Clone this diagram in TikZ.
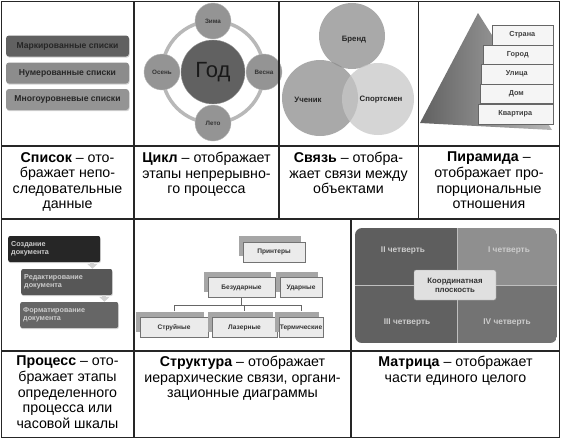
\documentclass[tikz,border=0pt]{standalone}
\usepackage{fontspec}
\setmainfont{Liberation Sans}
\usetikzlibrary{shadows,arrows.meta}
\begin{document}
\begin{tikzpicture}[%
    x=1pt, y=-1pt,
    grid/.style={
      line width=1.2pt,
      draw=black!85
    },
    caption/.style={
      anchor=north,
      align=center,
      inner sep=0pt,
      font=\fontsize{14.2}{15.6}\selectfont
    },
    listbar/.style={
      rectangle,
      rounded corners=3pt,
      minimum width=123pt,
      minimum height=21pt,
      font=\fontsize{8.6}{9}\selectfont\bfseries,
      text=black!85,
      drop shadow={shadow xshift=0.6pt, shadow yshift=-1.2pt, opacity=0.35}
    },
    season/.style={
      circle,
      minimum size=36pt,
      inner sep=0pt,
      fill=black!42,
      draw=black!28,
      font=\fontsize{6.3}{7}\selectfont\bfseries,
      text=black!80
    },
    vennlabel/.style={
      font=\fontsize{7.8}{8}\selectfont\bfseries,
      text=black!85
    },
    pyrbox/.style={
      rectangle,
      anchor=east,
      draw=black!60,
      fill=black!4,
      minimum height=19.5pt,
      font=\fontsize{7.3}{8}\selectfont\bfseries,
      text=black!75
    },
    procbox/.style={
      rectangle,
      anchor=west,
      rounded corners=2pt,
      minimum height=26pt,
      inner xsep=3pt,
      align=left,
      font=\fontsize{7.2}{8.2}\selectfont\bfseries,
      text=white!80!black,
      drop shadow={shadow xshift=0.6pt, shadow yshift=-1.2pt, opacity=0.3}
    },
    procarrow/.style={
      draw=black!18,
      line width=4pt,
      -{Triangle[width=10pt,length=5pt]}
    },
    strbox/.style={
      rectangle,
      draw=black!55,
      fill=black!8,
      minimum height=20pt,
      inner sep=1pt,
      font=\fontsize{6.6}{7}\selectfont\bfseries,
      text=black!80,
      drop shadow={shadow xshift=-4pt, shadow yshift=6pt, fill=black!35, opacity=1}
    },
    tree/.style={
      draw=black!60,
      line width=0.8pt
    },
    quarter/.style={
      font=\fontsize{8.3}{9}\selectfont\bfseries,
      text=white!80!black
    }
  ]
    \useasboundingbox (0,0) rectangle (561,440);

    \node[listbar, fill=black!62] (marked) at (67.5,46) {Маркированные списки};
    \node[listbar, fill=black!45] (numbered) at (67.5,73) {Нумерованные списки};
    \node[listbar, fill=black!42] (multi) at (67.5,99.5) {Многоуровневые списки};

    \node[circle, minimum size=102pt, outer sep=0pt, draw=black!28, line width=3.5pt] (ring) at (213,72) {};
    \node[circle, minimum size=64pt, fill=black!62, draw=black!40, font=\fontsize{22}{22}\selectfont, text=black!90] (year) at (ring.center) {Год};
    \node[season] (winter) at (ring.north) {Зима};
    \node[season] (spring) at (ring.east) {Весна};
    \node[season] (summer) at (ring.south) {Лето};
    \node[season] (autumn) at (ring.west) {Осень};

    \fill[black!45, fill opacity=0.75] (352,36) circle (33);
    \fill[black!45, fill opacity=0.75] (320,98) circle (38);
    \fill[black!22, fill opacity=0.75] (378,99) circle (36);
    \node[vennlabel] (brand) at (354,40) {Бренд};
    \node[vennlabel] (pupil) at (308,100) {Ученик};
    \node[vennlabel] (sportsman) at (381,100) {Спортсмен};

    \shade[left color=black!62, right color=black!28] (478,13) -- (420,123) -- (552,130) -- cycle;
    \node[pyrbox, minimum width=61pt] (country) at (553,35) {Страна};
    \node[pyrbox, minimum width=70pt] (city) at (553,54.5) {Город};
    \node[pyrbox, minimum width=72pt] (street) at (553,74) {Улица};
    \node[pyrbox, minimum width=73pt] (house) at (553,93.5) {Дом};
    \node[pyrbox, minimum width=75pt] (flat) at (553,114) {Квартира};

    \node[procbox, fill=black!85, text width=86pt] (create) at (8,249) {Создание\\документа};
    \node[procbox, fill=black!66, text width=85pt] (edit) at (21,282) {Редактирование\\документа};
    \node[procbox, fill=black!60, text width=92pt] (format) at (20,315) {Форматирование\\документа};
    \draw[procarrow] ([xshift=-8pt]create.south east) -- ([xshift=-8pt]create.south east |- edit.north);
    \draw[procarrow] ([xshift=-8pt]edit.south east) -- ([xshift=-8pt]edit.south east |- format.north);

    \node[strbox, minimum width=62pt] (printers) at (274,252) {Принтеры};
    \node[strbox, minimum width=67pt] (nonimpact) at (241.5,287.5) {Безударные};
    \node[strbox, minimum width=42pt] (impact) at (301,287.5) {Ударные};
    \node[strbox, minimum width=68pt] (inkjet) at (174,327.5) {Струйные};
    \node[strbox, minimum width=65pt] (laser) at (244.5,327.5) {Лазерные};
    \node[strbox, minimum width=42pt] (thermal) at (301,327.5) {Термические};
    \coordinate (fork) at (241.5,305);
    \draw[tree] (nonimpact.south) -- (fork);
    \draw[tree] ([yshift=6pt]inkjet.north) |- (fork) -| ([yshift=6pt]thermal.north);
    \draw[tree] (fork) -| ([yshift=6pt]laser.north);

    \begin{scope}
      \clip[rounded corners=7pt] (355,228) rectangle (557,343);
      \fill[black!63] (355,228) rectangle (457,285);
      \fill[black!44] (457,228) rectangle (557,285);
      \fill[black!62] (355,285) rectangle (457,343);
      \fill[black!55] (457,285) rectangle (557,343);
      \draw[black!25, line width=0.8pt] (457,228) -- (457,343) (355,285) -- (557,285);
    \end{scope}
    \node[quarter] (q2) at (403,250) {II четверть};
    \node[quarter] (q1) at (509,250) {I четверть};
    \node[quarter] (q3) at (407,322) {III четверть};
    \node[quarter] (q4) at (507,322) {IV четверть};
    \node[rectangle, rounded corners=2pt, fill=black!12, draw=black!40, minimum width=82pt, minimum height=30pt, align=center, font=\fontsize{7.8}{9}\selectfont\bfseries, text=black!80] (plane) at (455,285) {Координатная\\плоскость};

    \draw[grid] (1.5,1.5) rectangle (559.5,437.5);
    \draw[grid] (1.5,146) -- (559.5,146);
    \draw[grid] (1.5,219) -- (559.5,219);
    \draw[grid] (1.5,351) -- (559.5,351);
    \draw[grid] (134,1.5) -- (134,437.5);
    \draw[grid] (279,1.5) -- (279,219);
    \draw[grid] (418.5,1.5) -- (418.5,219);
    \draw[grid] (351,219) -- (351,437.5);

    \node[caption] (listcap) at (67.5,152) {\textbf{Список} – ото-\\бражает непо-\\следовательные\\данные};
    \node[caption] (cyclecap) at (206.5,152) {\textbf{Цикл} – отображает\\этапы непрерывно-\\го процесса};
    \node[caption] (linkcap) at (348.5,152) {\textbf{Связь} – отобра-\\жает связи между\\объектами};
    \node[caption] (pyrcap) at (489,152) {\textbf{Пирамида} –\\отображает про-\\порциональные\\отношения};
    \node[caption] (proccap) at (67.5,356) {\textbf{Процесс} – ото-\\бражает этапы\\определенного\\процесса или\\часовой шкалы};
    \node[caption] (structcap) at (242.5,356) {\textbf{Структура} – отображает\\иерархические связи, органи-\\зационные диаграммы};
    \node[caption] (matrixcap) at (455.5,356) {\textbf{Матрица} – отображает\\части единого целого};
  \end{tikzpicture}
\end{document}
